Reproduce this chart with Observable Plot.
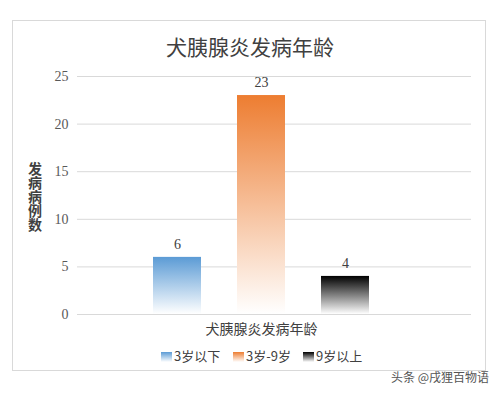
<!DOCTYPE html>
<html>
<head>
<meta charset="utf-8">
<script src="https://cdn.jsdelivr.net/npm/d3@7"></script>
<script src="https://cdn.jsdelivr.net/npm/@observablehq/plot@0.6"></script>
<style>
  html, body { margin: 0; padding: 0; background: #fff; }
  body { width: 500px; height: 393px; position: relative; overflow: hidden; font-family: "Noto Sans CJK SC", sans-serif; }
  #frame { position: absolute; left: 12px; top: 20px; width: 474px; height: 351px; border: 1px solid #d9d9d9; box-sizing: border-box; }
  #title { position: absolute; left: 0; width: 500px; top: 32px; text-align: center; font-size: 21px; line-height: 28px; color: #404040; }
  #ylabel { position: absolute; left: 27px; top: 162px; width: 16px; font-size: 14px; line-height: 16px; font-weight: bold; color: #404040; writing-mode: vertical-rl; text-orientation: upright; letter-spacing: 0px; }
  #xlabel { position: absolute; left: 205px; width: 113px; top: 318px; text-align: center; font-size: 14px; line-height: 20px; color: #404040; white-space: nowrap; }
  #chart { position: absolute; left: 0; top: 60px; }
  #legend { position: absolute; top: 347px; left: 0; width: 500px; height: 18px; font-size: 13px; line-height: 18px; color: #404040; }
  .item { position: absolute; top: 0; white-space: nowrap; }
  .sw { display: inline-block; width: 11px; height: 10px; vertical-align: -1px; margin-right: 2px; }
  #mark { position: absolute; right: 11px; top: 369px; font-size: 12px; line-height: 16px; color: #555; }
</style>
</head>
<body>
<svg width="0" height="0" style="position:absolute">
  <defs id="defs"></defs>
</svg>
<div id="frame"></div>
<div id="title"></div>
<div id="ylabel"></div>
<div id="chart"></div>
<div id="xlabel"></div>
<div id="legend"></div>
<div id="mark">头条 @戌狸百物语</div>
<script>
const titleText = "犬胰腺炎发病年龄";
const yLabelText = "发病病例数";
const xLabelText = "犬胰腺炎发病年龄";
const categories = ["3岁以下", "3岁-9岁", "9岁以上"];
const values = [6, 23, 4];
const colors = ["#5b9bd5", "#ed7d31", "#000000"];
const yTicks = [0, 5, 10, 15, 20, 25];

document.getElementById("title").textContent = titleText;
document.getElementById("ylabel").textContent = yLabelText;
document.getElementById("xlabel").textContent = xLabelText;

// gradients
const defs = d3.select("#defs");
colors.forEach((c, i) => {
  const g = defs.append("linearGradient").attr("id", "grad" + i)
    .attr("x1", 0).attr("y1", 0).attr("x2", 0).attr("y2", 1);
  g.append("stop").attr("offset", "0%").attr("stop-color", c);
  g.append("stop").attr("offset", "100%").attr("stop-color", "#ffffff");
});

const data = categories.map((c, i) => ({category: c, value: values[i]}));

const chart = Plot.plot({
  width: 500,
  height: 280,
  marginTop: 16,
  marginBottom: 26,
  marginLeft: 77,
  marginRight: 29,
  style: {background: "transparent", fontFamily: "'Liberation Serif', serif", color: "#595959"},
  x: {domain: categories, range: [152, 371], paddingInner: 0.4235, paddingOuter: 0, axis: null},
  y: {domain: [0, 25], axis: null},
  marks: [
    Plot.ruleY(yTicks, {stroke: "#d9d9d9", strokeWidth: 1}),
    ...data.map((d, i) => Plot.barY([d], {x: "category", y: "value", fill: `url(#grad${i})`})),
    Plot.text(data, {x: "category", y: "value", text: d => String(d.value), dy: -13, fontSize: 14, fill: "#404040"}),
    Plot.axisY(yTicks, {tickSize: 0, tickPadding: 9, fontSize: 14, label: null, tickFormat: d => String(d), fill: "#595959"})
  ]
});
document.getElementById("chart").appendChild(chart);

// legend
const legend = document.getElementById("legend");
const lefts = [161, 233, 303];
categories.forEach((c, i) => {
  const it = document.createElement("div");
  it.className = "item";
  it.style.left = lefts[i] + "px";
  it.innerHTML = `<span class="sw" style="background:linear-gradient(${colors[i]}, #ffffff)"></span>${c}`;
  legend.appendChild(it);
});
</script>
</body>
</html>
